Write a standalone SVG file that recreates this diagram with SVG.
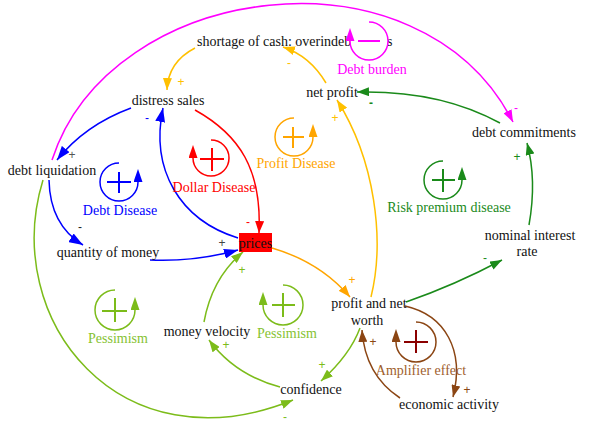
<svg xmlns="http://www.w3.org/2000/svg" width="590" height="437" viewBox="0 0 590 437">
<style>
.n{font-family:"Liberation Serif","Times New Roman",serif;font-size:14px;fill:#111;text-anchor:middle}
.ll{font-family:"Liberation Serif","Times New Roman",serif;font-size:14px;text-anchor:middle}
.p{font-family:"Liberation Sans",Arial,sans-serif;font-size:12px;text-anchor:middle}
.c{fill:none;stroke-width:1.5}
.lp{fill:none;stroke-width:1.5}
.pl{fill:none;stroke-width:2}
</style>
<defs>
<marker id="a-blue" markerUnits="userSpaceOnUse" markerWidth="14" markerHeight="10" refX="14" refY="5" orient="auto"><path d="M0,0 L14,5 L0,10 z" fill="#0000ff"/></marker>
<marker id="a-red" markerUnits="userSpaceOnUse" markerWidth="12" markerHeight="9" refX="12" refY="4.5" orient="auto"><path d="M0,0 L12,4.5 L0,9 z" fill="#ff0000"/></marker>
<marker id="a-mag" markerUnits="userSpaceOnUse" markerWidth="12" markerHeight="9" refX="12" refY="4.5" orient="auto"><path d="M0,0 L12,4.5 L0,9 z" fill="#ff00ff"/></marker>
<marker id="a-gold" markerUnits="userSpaceOnUse" markerWidth="12" markerHeight="9" refX="12" refY="4.5" orient="auto"><path d="M0,0 L12,4.5 L0,9 z" fill="#ffc000"/></marker>
<marker id="a-or" markerUnits="userSpaceOnUse" markerWidth="12" markerHeight="9" refX="12" refY="4.5" orient="auto"><path d="M0,0 L12,4.5 L0,9 z" fill="#ffa500"/></marker>
<marker id="a-gr" markerUnits="userSpaceOnUse" markerWidth="12" markerHeight="9" refX="12" refY="4.5" orient="auto"><path d="M0,0 L12,4.5 L0,9 z" fill="#1a8a1a"/></marker>
<marker id="a-yg" markerUnits="userSpaceOnUse" markerWidth="12" markerHeight="9" refX="12" refY="4.5" orient="auto"><path d="M0,0 L12,4.5 L0,9 z" fill="#7cbc1a"/></marker>
<marker id="a-br" markerUnits="userSpaceOnUse" markerWidth="12" markerHeight="9" refX="12" refY="4.5" orient="auto"><path d="M0,0 L12,4.5 L0,9 z" fill="#8b4513"/></marker>
<marker id="l-blue" markerUnits="userSpaceOnUse" markerWidth="13" markerHeight="9" refX="0" refY="4.5" orient="auto"><path d="M0,0 L13,4.5 L0,9 z" fill="#0000ff"/></marker>
<marker id="l-red" markerUnits="userSpaceOnUse" markerWidth="13" markerHeight="9" refX="0" refY="4.5" orient="auto"><path d="M0,0 L13,4.5 L0,9 z" fill="#ff0000"/></marker>
<marker id="l-or" markerUnits="userSpaceOnUse" markerWidth="13" markerHeight="9" refX="0" refY="4.5" orient="auto"><path d="M0,0 L13,4.5 L0,9 z" fill="#ffa500"/></marker>
<marker id="l-gr" markerUnits="userSpaceOnUse" markerWidth="13" markerHeight="9" refX="0" refY="4.5" orient="auto"><path d="M0,0 L13,4.5 L0,9 z" fill="#1a8a1a"/></marker>
<marker id="l-yg" markerUnits="userSpaceOnUse" markerWidth="13" markerHeight="9" refX="0" refY="4.5" orient="auto"><path d="M0,0 L13,4.5 L0,9 z" fill="#7cbc1a"/></marker>
<marker id="l-br" markerUnits="userSpaceOnUse" markerWidth="13" markerHeight="9" refX="0" refY="4.5" orient="auto"><path d="M0,0 L13,4.5 L0,9 z" fill="#8b4513"/></marker>
<marker id="l-mag" markerUnits="userSpaceOnUse" markerWidth="13" markerHeight="9" refX="0" refY="4.5" orient="auto"><path d="M0,0 L13,4.5 L0,9 z" fill="#ff00ff"/></marker>
</defs>
<rect width="590" height="437" fill="#fff"/>

<g id="connectors">
<path class="c" stroke="#ff00ff" d="M52,160 C110,-20 420,-60 513,122" marker-end="url(#a-mag)"/>
<path class="c" stroke="#ffc000" d="M195,48 Q168,62 167,90" marker-end="url(#a-gold)"/>
<path class="c" stroke="#ffc000" d="M326,83 Q310,56 283,47" marker-end="url(#a-gold)"/>
<path class="c" stroke="#ffc000" d="M371,297 C385,240 375,160 337,100" marker-end="url(#a-gold)"/>
<path class="c" stroke="#1a8a1a" d="M500,123 Q440,90 357,92" marker-end="url(#a-gr)"/>
<path class="c" stroke="#1a8a1a" d="M529,225 Q537,180 527,143" marker-end="url(#a-gr)"/>
<path class="c" stroke="#1a8a1a" d="M406,302 Q455,285 502,260" marker-end="url(#a-gr)"/>
<path class="c" stroke="#8b4513" d="M405,306 C445,315 465,350 453,397" marker-end="url(#a-br)"/>
<path class="c" stroke="#8b4513" d="M400,398 Q365,375 362,330" marker-end="url(#a-br)"/>
<path class="c" stroke="#7cbc1a" d="M360,328 Q350,355 321,381" marker-end="url(#a-yg)"/>
<path class="c" stroke="#7cbc1a" d="M280,387 Q235,375 209,340" marker-end="url(#a-yg)"/>
<path class="c" stroke="#7cbc1a" d="M204,322 Q212,278 243,252" marker-end="url(#a-yg)"/>
<path class="c" stroke="#7cbc1a" d="M43,180 C0,320 120,470 293,400" marker-end="url(#a-yg)"/>
<path class="c" stroke="#0000ff" d="M131,108 Q85,125 57,160" marker-end="url(#a-blue)"/>
<path class="c" stroke="#0000ff" d="M49,180 Q50,225 83,245" marker-end="url(#a-blue)"/>
<path class="c" stroke="#0000ff" d="M150,260 Q195,262 238,250" marker-end="url(#a-blue)"/>
<path class="c" stroke="#0000ff" d="M238,238 C180,220 150,170 163,108" marker-end="url(#a-blue)"/>
<path class="c" stroke="#ff0000" d="M195,110 C240,135 262,170 259,233" marker-end="url(#a-red)"/>
<path class="c" stroke="#ffa500" d="M272,248 Q320,262 350,297" marker-end="url(#a-or)"/>
<text class="p" fill="#ff00ff" x="516" y="112">-</text>
<text class="p" fill="#ffc000" x="181" y="86">+</text>
<text class="p" fill="#ffc000" x="289" y="67">-</text>
<text class="p" fill="#ffc000" x="335" y="122">+</text>
<text class="p" fill="#1a8a1a" x="371" y="107" font-weight="bold">-</text>
<text class="p" fill="#1a8a1a" x="517" y="161">+</text>
<text class="p" fill="#1a8a1a" x="485" y="262">-</text>
<text class="p" fill="#8b4513" x="467" y="394">+</text>
<text class="p" fill="#8b4513" x="373" y="346">+</text>
<text class="p" fill="#7cbc1a" x="322" y="369">+</text>
<text class="p" fill="#7cbc1a" x="226" y="349">+</text>
<text class="p" fill="#7cbc1a" x="242" y="274">+</text>
<text class="p" fill="#7cbc1a" x="285" y="421">-</text>
<text class="p" fill="#555" x="72" y="159">+</text>
<text class="p" fill="#222" x="80" y="231">-</text>
<text class="p" fill="#444" x="222" y="247">+</text>
<text class="p" fill="#0000ff" x="147" y="122">-</text>
<text class="p" fill="#ff0000" x="248" y="226">-</text>
<text class="p" fill="#ffa500" x="352" y="284">+</text>
</g>

<g id="shortage-of-cash"><text class="n" x="197" y="46" style="text-anchor:start">shortage of cash: overindebtedness</text></g>
<g id="net-profit"><text class="n" x="332" y="97">net profit</text></g>
<g id="distress-sales"><text class="n" x="168" y="105">distress sales</text></g>
<g id="debt-liquidation"><text class="n" x="52" y="175">debt liquidation</text></g>
<g id="quantity-of-money"><text class="n" x="108" y="257">quantity of money</text></g>
<g id="prices"><rect x="239" y="233" width="33" height="19" fill="#ff0000"/><text class="n" x="255.5" y="248">prices</text></g>
<g id="debt-commitments"><text class="n" x="524" y="137">debt commitments</text></g>
<g id="nominal-interest-rate"><text class="n" x="530" y="240">nominal interest</text><text class="n" x="527" y="256">rate</text></g>
<g id="profit-and-net-worth"><text class="n" x="369" y="308">profit and net</text><text class="n" x="367" y="325">worth</text></g>
<g id="money-velocity"><text class="n" x="207" y="336">money velocity</text></g>
<g id="confidence"><text class="n" x="311" y="394">confidence</text></g>
<g id="economic-activity"><text class="n" x="449" y="409">economic activity</text></g>

<g id="loop-debt-burden">
<circle cx="369" cy="41" r="19" fill="#fff"/>
<path class="lp" stroke="#ff00ff" d="M369,22 A19,19 0 1 1 350,41" marker-end="url(#l-mag)"/>
<path class="pl" stroke="#ff00ff" d="M358,41 H380"/>
<text class="ll" fill="#ff00ff" x="372" y="74">Debt burden</text>
</g>
<g id="loop-debt-disease">
<path class="lp" stroke="#0000ff" d="M119,163 A19,19 0 1 0 138,182" marker-end="url(#l-blue)"/>
<path class="pl" stroke="#0000ff" d="M107,182 H131 M119,172 V193"/>
<text class="ll" fill="#0000ff" x="120" y="215">Debt Disease</text>
</g>
<g id="loop-dollar-disease">
<path class="lp" stroke="#ff0000" d="M211,140 A18,18 0 1 1 193,158" marker-end="url(#l-red)"/>
<path class="pl" stroke="#ff0000" d="M200,159 H224 M212,148 V171"/>
<text class="ll" fill="#ff0000" x="214" y="192">Dollar Disease</text>
</g>
<g id="loop-profit-disease">
<path class="lp" stroke="#ffa500" d="M294,118 A19,19 0 1 0 313,137" marker-end="url(#l-or)"/>
<path class="pl" stroke="#ffa500" d="M283,137 H304 M293,127 V148"/>
<text class="ll" fill="#ffa500" x="296" y="168">Profit Disease</text>
</g>
<g id="loop-risk-premium">
<path class="lp" stroke="#1a8a1a" d="M443,161 A19,19 0 1 0 462,180" marker-end="url(#l-gr)"/>
<path class="pl" stroke="#1a8a1a" d="M432,180 H455 M443,169 V192"/>
<text class="ll" fill="#1a8a1a" x="449" y="212">Risk premium disease</text>
</g>
<g id="loop-pessimism-1">
<path class="lp" stroke="#7cbc1a" d="M115,290 A20,20 0 1 0 135,310" marker-end="url(#l-yg)"/>
<path class="pl" stroke="#7cbc1a" d="M102,311 H127 M115,298 V322"/>
<text class="ll" fill="#86c232" x="118" y="343">Pessimism</text>
</g>
<g id="loop-pessimism-2">
<path class="lp" stroke="#7cbc1a" d="M283,285 A20,20 0 1 1 263,305" marker-end="url(#l-yg)"/>
<path class="pl" stroke="#7cbc1a" d="M272,305 H295 M283,293 V317"/>
<text class="ll" fill="#86c232" x="287" y="338">Pessimism</text>
</g>
<g id="loop-amplifier">
<path class="lp" stroke="#8b4513" d="M416,322 A20,20 0 1 1 396,342" marker-end="url(#l-br)"/>
<path class="pl" stroke="#8b0000" d="M404,342 H428 M416,330 V353"/>
<text class="ll" fill="#a0602d" x="421" y="375">Amplifier effect</text>
</g>
</svg>
